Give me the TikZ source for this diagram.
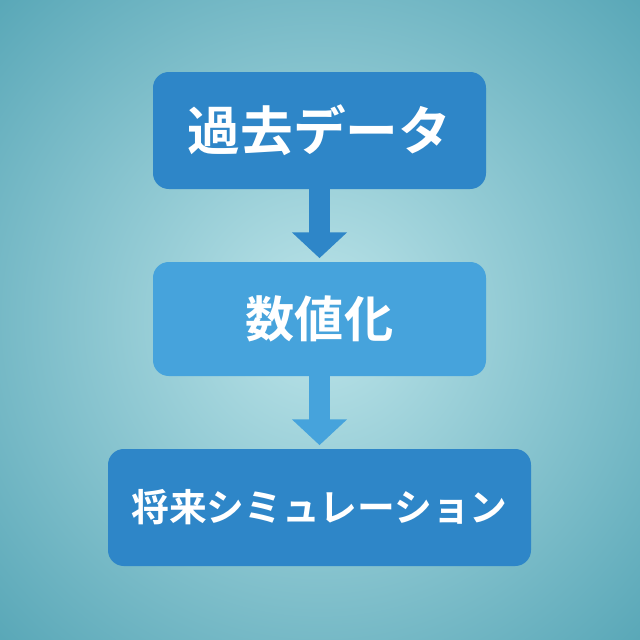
\documentclass[tikz,border=0pt]{standalone}
\usepackage{fontspec}
\newfontfamily\cjk{Noto Sans CJK JP Bold}
\usetikzlibrary{arrows.meta}
\definecolor{boxdark}{HTML}{2E86C8}
\definecolor{boxlight}{HTML}{46A3DC}
\definecolor{bginner}{HTML}{BCE4E9}
\definecolor{bgouter}{HTML}{5AA8B8}
\begin{document}
\begin{tikzpicture}[x=0.02cm,y=-0.02cm,
    stepbox/.style={rounded corners=9pt,inner sep=0pt,text=white,font=\cjk},
    flow/.style={line width=12.5pt,shorten >=2pt,-{Triangle[width=30.6pt,length=14.7pt]}}]
  \begin{scope}
    \clip (0,0) rectangle (640,640);
    \shade[inner color=bginner,outer color=bgouter] (-130,-130) rectangle (770,770);
  \end{scope}
  \useasboundingbox (0,0) rectangle (640,640);
  \node[stepbox,fill=boxdark,minimum width=333*0.02cm,minimum height=117*0.02cm,font=\cjk\fontsize{30}{34}\selectfont] (past) at (319.5,130.5) {過去データ};
  \node[stepbox,fill=boxlight,minimum width=333*0.02cm,minimum height=114*0.02cm,font=\cjk\fontsize{28}{32}\selectfont] (num) at (319.5,319) {数値化};
  \node[stepbox,fill=boxdark,minimum width=423*0.02cm,minimum height=117*0.02cm,font=\cjk\fontsize{21.5}{26}\selectfont] (sim) at (319.5,507.5) {将来シミュレーション};
  \draw[flow,boxdark] (past.south) -- (num.north);
  \draw[flow,boxlight] (num.south) -- (sim.north);
\end{tikzpicture}
\end{document}
